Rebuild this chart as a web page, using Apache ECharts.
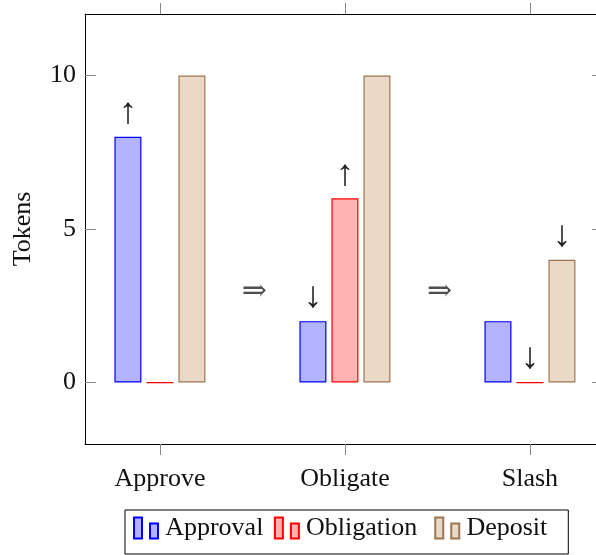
<!DOCTYPE html>
<html><head><meta charset="utf-8">
<script src="https://cdn.jsdelivr.net/npm/echarts@6/dist/echarts.min.js"></script>
<style>html,body{margin:0;padding:0;background:#fff}#c{width:596px;height:555px}</style>
</head><body><div id="c"></div>
<script>
const categories = ['Approve', 'Obligate', 'Slash'];
const seriesNames = ['Approval', 'Obligation', 'Deposit'];
const approval = [8, 2, 2];
const obligation = [0, 6, 0];
const deposit = [10, 10, 4];
const approvalArrows = ['↑', '↓', ''];
const obligationArrows = ['', '↑', '↓'];
const depositArrows = ['', '', '↓'];
const transitionPos = [0.5, 1.5];
const transitionLevel = [3, 3];
const yTicks = [0, 5, 10];
const xTicks = [0, 1, 2];

const FONT = '"Liberation Serif", "DejaVu Serif", serif';
const FS = 26;

function barData(vals, arrows) {
  return vals.map((v, i) => ({
    value: [i, v],
    label: arrows[i] ? { show: true, formatter: arrows[i] } : { show: false }
  }));
}
const arrowLabel = { position: 'top', distance: 5, fontFamily: FONT, fontSize: 37, color: '#222' };
const iconPath = 'path://M0,0H8V21H0Z M16,6H24V21H16Z';

function barSeries(name, vals, arrows, fill, stroke) {
  return {
    name, type: 'bar', data: barData(vals, arrows),
    barWidth: 27, barGap: '18.5%',
    itemStyle: { color: fill, borderColor: stroke, borderWidth: 1.2 },
    label: arrowLabel, emphasis: { disabled: true }, animation: false
  };
}

// spacing around legend texts
const legendPrefix = '\u200A';
const legendSuffix = [' ', '  ', '  '];
const chart = echarts.init(document.getElementById('c'), null, { renderer: 'canvas' });
const xMin = -0.405, xMax = 2.357;
chart.setOption({
  animation: false,
  textStyle: { fontFamily: FONT },
  grid: { left: 85, right: 0, top: 14, bottom: 111, show: false },
  legend: {
    data: seriesNames,
    formatter: name => legendPrefix + name + legendSuffix[seriesNames.indexOf(name)],
    left: 125, top: 510,
    padding: [5, 8, 13, 8], borderColor: '#000', borderWidth: 1,
    itemWidth: 24, itemHeight: 21, itemGap: 4, icon: iconPath,
    textStyle: { fontFamily: FONT, fontSize: FS, color: '#111' }
  },
  xAxis: [{
    type: 'value', min: xMin, max: xMax, position: 'bottom',
    axisLine: { show: true, onZero: false, lineStyle: { color: '#000' } },
    axisTick: { show: true, inside: false, length: 11, customValues: xTicks, lineStyle: { color: '#888' } },
    axisLabel: { customValues: xTicks, formatter: v => categories[Math.round(v)], fontFamily: FONT, fontSize: FS, color: '#111', margin: 22 },
    splitLine: { show: false }
  }, {
    type: 'value', min: xMin, max: xMax, position: 'top',
    axisLine: { show: true, onZero: false, lineStyle: { color: '#000' } },
    axisTick: { show: true, inside: false, length: 11, customValues: xTicks, lineStyle: { color: '#888' } },
    axisLabel: { show: false }, splitLine: { show: false }
  }],
  yAxis: [{
    type: 'value', min: -2, max: 12, position: 'left',
    name: 'Tokens', nameLocation: 'middle', nameGap: 49, nameRotate: 90,
    nameTextStyle: { fontFamily: FONT, fontSize: FS, color: '#111' },
    axisLine: { show: true, onZero: false, lineStyle: { color: '#000' } },
    axisTick: { show: true, inside: true, length: 11, customValues: yTicks, lineStyle: { color: '#888' } },
    axisLabel: { customValues: yTicks, fontFamily: FONT, fontSize: FS, color: '#111', margin: 9 },
    splitLine: { show: false }
  }, {
    type: 'value', min: -2, max: 12, position: 'right',
    axisLine: { show: false, onZero: false },
    axisTick: { show: true, inside: true, length: 4, customValues: yTicks, lineStyle: { color: '#888' } },
    axisLabel: { show: false }, splitLine: { show: false }
  }],
  series: [
    barSeries('Approval', approval, approvalArrows, '#b3b3ff', '#0000ff'),
    barSeries('Obligation', obligation, obligationArrows, '#ffb3b3', '#ff0000'),
    barSeries('Deposit', deposit, depositArrows, '#ead9c6', '#9c7650'),
    {
      type: 'scatter', name: 'transition', symbolSize: 0,
      data: transitionPos.map((x, i) => [x, transitionLevel[i]]),
      label: { show: true, position: 'inside', offset: [2, 2], formatter: '⇒', fontFamily: FONT, fontSize: 30, color: '#222' },
      emphasis: { disabled: true }, silent: true
    }
  ]
});
</script></body></html>
